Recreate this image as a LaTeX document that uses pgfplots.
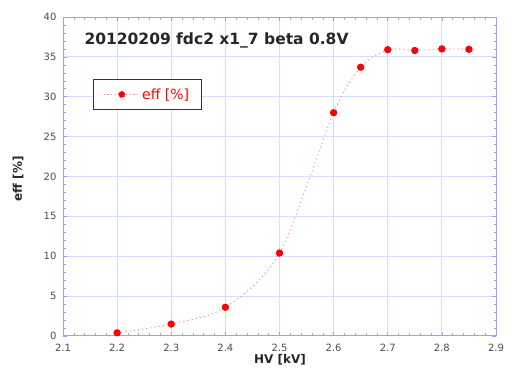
\documentclass[border=0pt]{standalone}
\usepackage{fontspec}
\setmainfont{DejaVu Sans}
\usepackage{pgfplots}
\pgfplotsset{compat=1.18}
\definecolor{gridblue}{rgb}{0.84,0.87,1}
\definecolor{axblue}{rgb}{0.58,0.63,1}
\definecolor{ptred}{rgb}{1,0,0}
\definecolor{linered}{rgb}{1,0.55,0.55}
\definecolor{ticktext}{rgb}{0.3,0.3,0.3}
\begin{document}
\begin{tikzpicture}
\useasboundingbox (0,0) rectangle (514pt,369pt);
\begin{axis}[
  at={(63pt,33pt)}, anchor=south west,
  scale only axis, width=433pt, height=319pt,
  xmin=2.1, xmax=2.9, ymin=0, ymax=40,
  xtick={2.1,2.2,2.3,2.4,2.5,2.6,2.7,2.8,2.9},
  ytick={0,5,10,15,20,25,30,35,40},
  minor x tick num=4, minor y tick num=4,
  grid=major,
  major grid style={gridblue, line width=1pt},
  axis line style={axblue, line width=1pt},
  every tick/.style={axblue, line width=0.6pt},
  major tick length=4pt, minor tick length=2.5pt,
  tick align=inside,
  /pgf/number format/assume math mode=true,
  xticklabel style={font=\fontsize{10}{12}\selectfont, text=ticktext, yshift=-5pt},
  yticklabel style={font=\fontsize{10}{12}\selectfont, text=ticktext, xshift=-3pt},
  xticklabel={\pgfmathprintnumber[fixed,precision=1,fixed zerofill]{\tick}},
  legend style={at={(rel axis cs:0.069,0.806)}, anchor=north west,
    draw=black!80, line width=1pt, fill=white,
    font=\fontsize{14}{16}\selectfont, text=ptred,
    inner xsep=10pt, inner ysep=7pt},
  legend cell align=left,
  legend image code/.code={
    \draw[linered, line width=0.8pt, dash pattern=on 1.2pt off 2.5pt] (0pt,0pt) -- (36pt,0pt);
    \fill[ptred] (18pt,0pt) circle (3.2pt);
  },
]
\addplot[linered, line width=0.9pt, dash pattern=on 1.2pt off 3pt, smooth, tension=0.5,
  mark=*, mark size=3.2pt, mark options={solid, draw=ptred, fill=ptred}]
  coordinates {
    (2.2,0.4) (2.3,1.5) (2.4,3.6) (2.5,10.4) (2.6,28.0)
    (2.65,33.7) (2.7,35.9) (2.75,35.8) (2.8,36.0) (2.85,35.95)
  };
\addlegendentry{eff [\%]}
\end{axis}
\node[anchor=west, text=black!85, font=\bfseries\fontsize{15.5}{18}\selectfont] at (81pt,329pt) {20120209 fdc2 x1\_7 beta 0.8V};
\node[text=black!85, font=\bfseries\fontsize{12}{14}\selectfont] at (280pt,9pt) {HV [kV]};
\node[rotate=90, text=black!85, font=\bfseries\fontsize{12}{14}\selectfont] at (18pt,190pt) {eff [\%]};
\end{tikzpicture}
\end{document}
